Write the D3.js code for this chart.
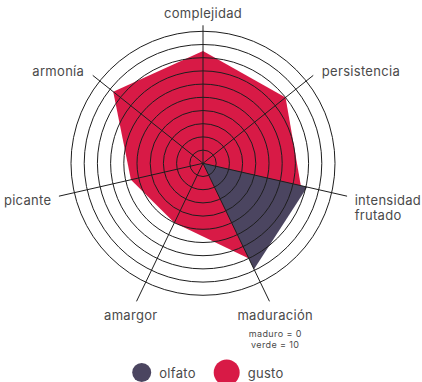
<!DOCTYPE html>
<html>
<head>
<meta charset="utf-8">
<script src="https://cdn.jsdelivr.net/npm/d3@7"></script>
<style>
  body { margin: 0; background: #fff; }
  svg { display: block; font-family: "Inter", "Lato", sans-serif; }
</style>
</head>
<body>
<svg id="chart" width="422" height="382"></svg>
<script>
// axes, clockwise from the top
const axes = ["complejidad", "persistencia", "intensidad frutado", "maduración", "amargor", "picante", "armonía"];
const gusto = [8.5, 8, 7.6, 8, 5, 5.6, 8.7];
const olfato = [0, 0, 8.1, 8.9, 0, 0, 0];
const levels = [1, 2, 3, 4, 5, 6, 7, 8, 9, 10];
const seriesNames = ["olfato", "gusto"];
const noteLines = ["maduro = 0", "verde = 10"];

const width = 422, height = 382,
    cx = 203, cy = 163.3,
    radius = 132;

const colors = { olfato: "#4b4560", gusto: "#d81a46" };
const textColor = "#4a4a4a";

const svg = d3.select("#chart");
const g = svg.append("g").attr("transform", `translate(${cx},${cy})`);

const r = d3.scaleLinear().domain([0, 10]).range([0, radius]);
const angle = d3.scalePoint().domain(axes).range([0, 2 * Math.PI * (axes.length - 1) / axes.length]);

const radar = d3.lineRadial()
    .angle((d, i) => angle(axes[i]))
    .radius(d => r(d))
    .curve(d3.curveLinearClosed);

// shapes first, grid drawn over them
g.append("path")
    .attr("d", radar(gusto))
    .attr("fill", colors.gusto);

g.append("path")
    .attr("d", radar(olfato))
    .attr("fill", colors.olfato);

g.selectAll("circle.level")
    .data(levels).enter()
    .append("circle")
    .attr("class", "level")
    .attr("r", d => r(d))
    .attr("fill", "none")
    .attr("stroke", "#1e1e1e")
    .attr("stroke-width", 1);

// axis line length: a bit shorter at the top, longer at the bottom
const axisLen = a => 146 - 8 * Math.cos(a);
const labelLen = a => 152 + 16 * Math.max(0, -Math.cos(a));

g.selectAll("line.axis")
    .data(axes).enter()
    .append("line")
    .attr("class", "axis")
    .attr("x1", 0).attr("y1", 0)
    .attr("x2", d => axisLen(angle(d)) * Math.sin(angle(d)))
    .attr("y2", d => -axisLen(angle(d)) * Math.cos(angle(d)))
    .attr("stroke", "#1e1e1e")
    .attr("stroke-width", 1);

const labels = g.selectAll("text.axis-label")
    .data(axes).enter()
    .append("text")
    .attr("class", "axis-label")
    .attr("font-size", 13)
    .attr("letter-spacing", 0.3)
    .attr("fill", textColor)
    .attr("dominant-baseline", "central")
    .attr("text-anchor", d => {
        let s = Math.sin(angle(d));
        return Math.abs(s) < 0.5 ? "middle" : (s > 0 ? "start" : "end");
    })
    .attr("transform", d => {
        let a = angle(d), lr = labelLen(a);
        return `translate(${lr * Math.sin(a)},${-lr * Math.cos(a) + 2})`;
    });

labels.selectAll("tspan")
    .data(d => d.startsWith("intensidad") ? d.split(" ") : [d])
    .enter()
    .append("tspan")
    .attr("x", 0)
    .attr("y", (d, i) => i * 15)
    .text(d => d);

// note under maduración
const madA = angle("maduración"), madR = labelLen(madA);
svg.append("g")
    .attr("transform", `translate(${cx + madR * Math.sin(madA)},${cy - madR * Math.cos(madA)})`)
    .selectAll("text")
    .data(noteLines).enter()
    .append("text")
    .attr("text-anchor", "middle")
    .attr("dominant-baseline", "central")
    .attr("font-size", 9)
    .attr("letter-spacing", 0.4)
    .attr("fill", textColor)
    .attr("y", (d, i) => 20.5 + i * 11)
    .text(d => d);

// legend
const legendX = d3.scaleOrdinal().domain(seriesNames).range([141.7, 226.7]);
const legendR = { olfato: 9.5, gusto: 13 };

const legend = svg.append("g")
    .selectAll("g")
    .data(seriesNames).enter()
    .append("g")
    .attr("transform", d => `translate(${legendX(d)},372.5)`);

legend.append("circle")
    .attr("r", d => legendR[d])
    .attr("fill", d => colors[d]);

legend.append("text")
    .attr("x", d => legendR[d] + 8)
    .attr("dominant-baseline", "central")
    .attr("font-size", 13)
    .attr("letter-spacing", 0.3)
    .attr("fill", textColor)
    .text(d => d);
</script>
</body>
</html>
